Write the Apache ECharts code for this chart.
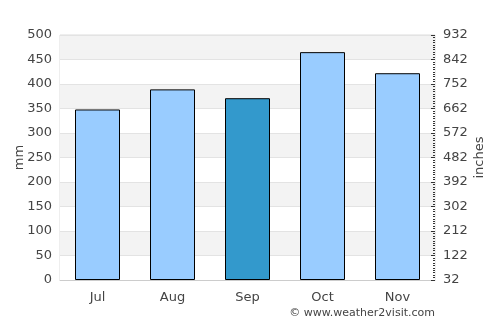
<!DOCTYPE html>
<html>
<head>
<meta charset="utf-8">
<script src="https://cdn.jsdelivr.net/npm/echarts@6/dist/echarts.min.js"></script>
<style>
  html, body { margin: 0; padding: 0; background: #fff; }
  #chart { width: 500px; height: 325px; }
</style>
</head>
<body>
<div id="chart"></div>
<script>
var months = ['Jul', 'Aug', 'Sep', 'Oct', 'Nov'];
var rainMm = [348, 389, 371, 465, 422];
var highlightMonth = 'Sep';

var chart = echarts.init(document.getElementById('chart'));

var barData = [];
for (var i = 0; i < months.length; i++) {
    barData.push({
        value: rainMm[i],
        itemStyle: { color: months[i] == highlightMonth ? '#3399cc' : '#99ccff' }
    });
}

var font = 'DejaVu Sans';

var option = {
    animation: false,
    grid: {
        left: 60, right: 65, top: 35, bottom: 45,
        outerBoundsMode: 'none', containLabel: false,
        show: true, borderColor: '#dddddd', borderWidth: 1
    },
    xAxis: {
        type: 'category',
        data: months,
        axisLine: { lineStyle: { color: '#cccccc' } },
        axisTick: { show: false },
        axisLabel: { color: '#444', fontSize: 13, fontFamily: font, margin: 11 }
    },
    yAxis: [{
        type: 'value',
        min: 0,
        max: 500,
        interval: 50,
        name: 'mm',
        nameLocation: 'middle',
        nameGap: 34,
        nameMoveOverlap: false,
        nameTextStyle: { color: '#444', fontSize: 13, fontFamily: font },
        axisLine: { show: false },
        axisTick: { show: false },
        axisLabel: { color: '#444', fontSize: 13, fontFamily: font, margin: 8 },
        splitLine: { lineStyle: { color: '#e3e3e3' } },
        splitArea: { show: true, areaStyle: { color: ['#ffffff', '#f3f3f3'] } }
    }, {
        type: 'value',
        min: 0,
        max: 500,
        interval: 50,
        position: 'right',
        name: 'inches',
        nameLocation: 'middle',
        nameGap: 38,
        nameMoveOverlap: false,
        nameTextStyle: { color: '#444', fontSize: 13, fontFamily: font },
        axisLine: { show: false },
        axisTick: { show: true, inside: true, length: 4, lineStyle: { color: '#333' } },
        minorTick: { show: true, splitNumber: 10, length: 2, lineStyle: { color: '#333' } },
        axisLabel: {
            color: '#444', fontSize: 13, fontFamily: font, margin: 8,
            formatter: function(v) { return Math.round(v * 1.8 + 32); }
        },
        splitLine: { show: false }
    }],
    series: [{
        type: 'bar',
        data: barData,
        barWidth: '60%',
        itemStyle: { borderColor: '#000', borderWidth: 1 }
    }],
    graphic: [{
        type: 'text',
        right: 65,
        top: 308,
        style: { text: '© www.weather2visit.com', fill: '#444', fontSize: 11, fontFamily: font }
    }]
};

chart.setOption(option);
</script>
</body>
</html>
